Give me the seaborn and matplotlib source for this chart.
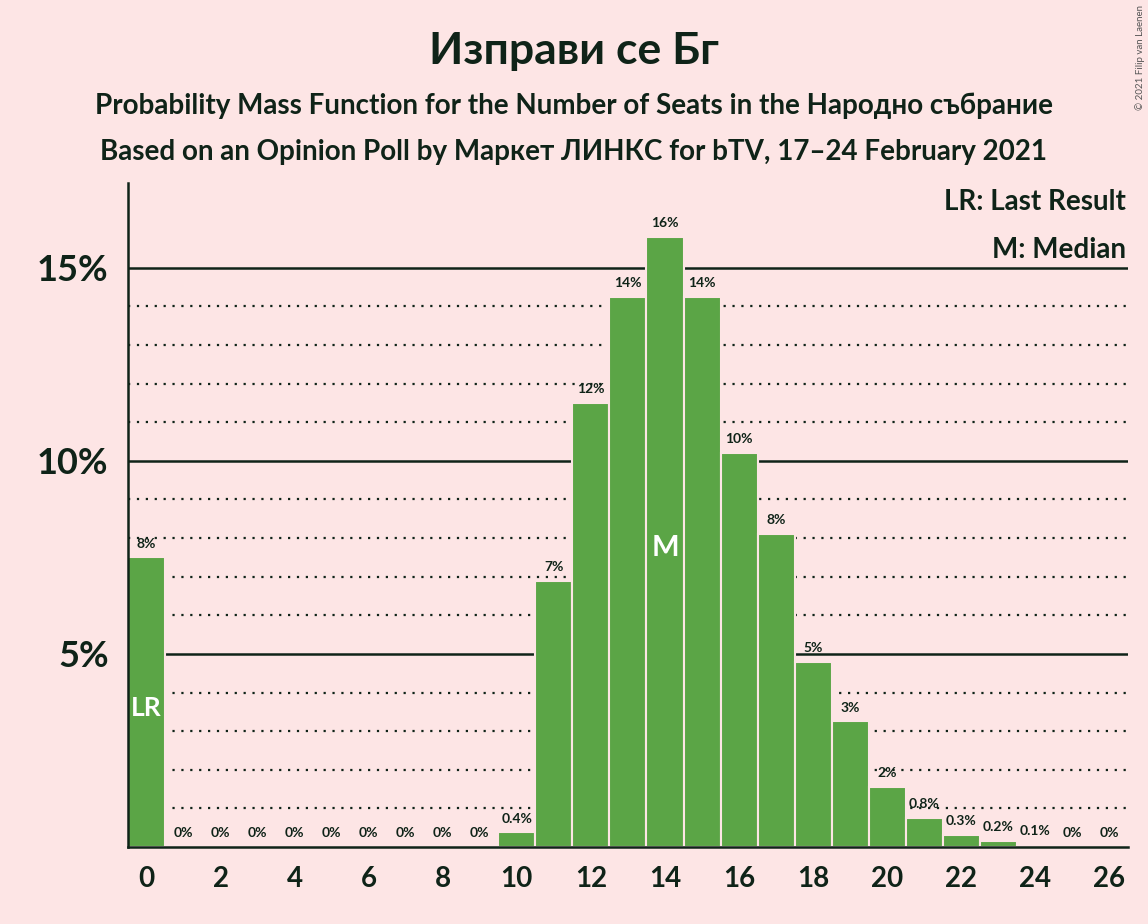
import numpy as np
import pandas as pd
import seaborn as sns
import matplotlib.pyplot as plt

# seats and probability (%)
seats = list(range(27))
probs = [7.5, 0, 0, 0, 0, 0, 0, 0, 0, 0, 0.38, 6.9, 11.5, 14.25, 15.8, 14.25,
         10.2, 8.1, 4.8, 3.25, 1.55, 0.75, 0.32, 0.16, 0.06, 0, 0]
last_result = 0
median = 14

title = "Изправи се Бг"
subtitle1 = "Probability Mass Function for the Number of Seats in the Народно събрание"
subtitle2 = "Based on an Opinion Poll by Маркет ЛИНКС for bTV, 17–24 February 2021"

bg = "#FDE5E5"
green = "#5BA546"
ink = "#0F2318"

sns.set_theme(style="white")
plt.rcParams['font.family'] = ['Lato', 'DejaVu Sans']

df = pd.DataFrame({'Seats': seats, 'Probability': probs})

fig = plt.figure(figsize=(11.48, 9.24), dpi=100, facecolor=bg)
ax = fig.add_axes([0.1115, 0.0833, 0.871, 0.719])
ax.set_facecolor(bg)

# grid lines: solid every 5%, dotted every 1%, up to 15%
for v in range(1, 16):
    if v % 5 == 0:
        ax.axhline(v, color=ink, lw=1.8, zorder=0)
    else:
        ax.axhline(v, color=ink, lw=1.6, ls=(0, (1, 3)), zorder=0)

sns.barplot(data=df, x='Seats', y='Probability', color=green, saturation=1,
            width=1.0, edgecolor=bg, linewidth=1.5, ax=ax, zorder=2)

def fmt(p):
    if p == 0:
        return "0%"
    if p < 1:
        return f"{p:.1f}%"
    return f"{p:.0f}%"

for s, p in zip(seats, probs):
    ax.text(s, p + 0.2, fmt(p), ha='center', va='bottom', fontsize=10,
            fontweight='bold', color=ink, zorder=3)

ax.text(last_result, 3.6, "LR", ha='center', va='center', fontsize=19,
        fontweight='bold', color='white', zorder=3)
ax.text(median, 7.75, "M", ha='center', va='center', fontsize=21,
        fontweight='bold', color='white', zorder=3)

ax.text(26.45, 16.7, "LR: Last Result", ha='right', va='center', fontsize=20,
        fontweight='bold', color=ink)
ax.text(26.45, 15.45, "M: Median", ha='right', va='center', fontsize=20,
        fontweight='bold', color=ink)

ax.set_xlim(-0.5, 26.5)
ax.set_ylim(0, 17.2)
ax.set_xticks(range(0, 27, 2))
ax.set_xticklabels([str(s) for s in range(0, 27, 2)], fontsize=20,
                   fontweight='bold', color=ink)
ax.set_yticks([5, 10, 15])
ax.set_yticklabels(["5%", "10%", "15%"], fontsize=26, fontweight='bold',
                   color=ink)
ax.tick_params(axis='both', length=0, pad=14)
ax.set_xlabel("")
ax.set_ylabel("")
for side in ['top', 'right']:
    ax.spines[side].set_visible(False)
for side in ['left', 'bottom']:
    ax.spines[side].set_color(ink)
    ax.spines[side].set_linewidth(1.8)
    ax.spines[side].set_zorder(4)

fig.text(0.5, 0.945, title, ha='center', va='center', fontsize=32,
         fontweight='bold', color=ink)
fig.text(0.5, 0.885, subtitle1, ha='center', va='center', fontsize=20,
         fontweight='bold', color=ink)
fig.text(0.5, 0.835, subtitle2, ha='center', va='center', fontsize=20,
         fontweight='bold', color=ink)
fig.text(0.993, 0.995, "© 2021 Filip van Laenen", ha='center', va='top',
         rotation=90, fontsize=7, color='#555555')

fig.savefig('out.png', dpi=100, facecolor=bg)
